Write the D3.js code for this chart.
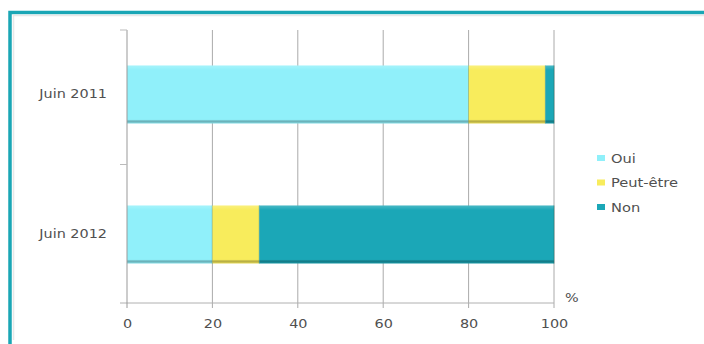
<!DOCTYPE html>
<html>
<head>
<meta charset="utf-8">
<script src="https://cdn.jsdelivr.net/npm/d3@7"></script>
<style>
  html, body { margin: 0; padding: 0; background: #fff; }
  svg { display: block; }
  text { font-family: "DejaVu Sans", sans-serif; }
</style>
</head>
<body>
<svg id="chart" width="704" height="344"></svg>
<script>
// Survey answers per period (percent of respondents)
const categories = ["Juin 2011", "Juin 2012"];
const seriesNames = ["Oui", "Peut-être", "Non"];
const oui = [80, 20];
const peutEtre = [18, 11];
const non = [2, 69];
const xTicks = [0, 20, 40, 60, 80, 100];

const colors = ["#90F0FA", "#F8EC5C", "#1BA7B7"];
const textColor = "#505050";

const rows = categories.map((c, i) => ({ cat: c, "Oui": oui[i], "Peut-être": peutEtre[i], "Non": non[i] }));
const stacked = d3.stack().keys(seriesNames)(rows);

const svg = d3.select("#chart");

// widen glyphs slightly, keeping each label's anchor
function widen(sel, k) {
  sel.each(function () {
    const w = this.getComputedTextLength();
    d3.select(this).attr("textLength", w * k).attr("lengthAdjust", "spacingAndGlyphs");
  });
}

// frame
svg.append("rect").attr("x", 10).attr("y", 12.5).attr("width", 700).attr("height", 340)
  .attr("fill", "#fff").attr("stroke", "#1AA6B5").attr("stroke-width", 3.5);
svg.append("path").attr("d", "M13.5,340 V15.5 H704").attr("fill", "none")
  .attr("stroke", "#e8e8e8").attr("stroke-width", 1.5);

const plotL = 127, plotR = 554, plotT = 30, plotB = 303;
const x = d3.scaleLinear().domain([0, 100]).range([plotL, plotR]);
const y = d3.scaleBand().domain(categories).range([plotT - 2, plotB - 2]).paddingInner(0.586).paddingOuter(0.268);

// vertical grid lines
svg.append("g").selectAll("line").data(xTicks.slice(1)).join("line")
  .attr("x1", d => x(d)).attr("x2", d => x(d))
  .attr("y1", plotT).attr("y2", plotB + 5)
  .attr("stroke", "#aaa").attr("stroke-width", 1);

// bars
const defs = svg.append("defs");
const shade = defs.append("linearGradient").attr("id", "shade").attr("x1", 0).attr("x2", 0).attr("y1", 0).attr("y2", 1);
shade.append("stop").attr("offset", "0").attr("stop-color", "#fff").attr("stop-opacity", 0.2);
shade.append("stop").attr("offset", "0.08").attr("stop-color", "#fff").attr("stop-opacity", 0);
shade.append("stop").attr("offset", "0.93").attr("stop-color", "#000").attr("stop-opacity", 0);
shade.append("stop").attr("offset", "0.96").attr("stop-color", "#000").attr("stop-opacity", 0.28);
shade.append("stop").attr("offset", "1").attr("stop-color", "#000").attr("stop-opacity", 0.1);

const series = svg.append("g").selectAll("g").data(stacked).join("g")
  .attr("fill", (d, i) => colors[i]);
series.selectAll("rect.b").data(d => d).join("rect").attr("class", "b")
  .attr("x", d => x(d[0])).attr("width", d => x(d[1]) - x(d[0]))
  .attr("y", d => y(d.data.cat)).attr("height", y.bandwidth());
series.selectAll("rect.s").data(d => d).join("rect").attr("class", "s")
  .attr("x", d => x(d[0])).attr("width", d => Math.max(0, x(d[1]) - x(d[0])))
  .attr("y", d => y(d.data.cat)).attr("height", y.bandwidth())
  .attr("fill", "url(#shade)");
// segment separators
series.selectAll("line").data(d => d).join("line")
  .attr("x1", d => x(d[1])).attr("x2", d => x(d[1]))
  .attr("y1", d => y(d.data.cat)).attr("y2", d => y(d.data.cat) + y.bandwidth())
  .attr("stroke", "#2a6f66").attr("stroke-opacity", 0.45).attr("stroke-width", 1.2);

// axes
svg.append("line").attr("x1", plotL - 7).attr("x2", plotR).attr("y1", plotB).attr("y2", plotB)
  .attr("stroke", "#b0b0b0");
svg.append("line").attr("x1", plotL).attr("x2", plotL).attr("y1", plotT).attr("y2", plotB + 5)
  .attr("stroke", "#999");
const catEdges = [plotT, (y(categories[0]) + y.bandwidth() + y(categories[1])) / 2];
svg.append("g").selectAll("line").data(catEdges).join("line")
  .attr("x1", plotL - 7).attr("x2", plotL).attr("y1", d => d).attr("y2", d => d)
  .attr("stroke", "#bbb");

const xAxis = d3.axisBottom(x).tickValues(xTicks).tickSize(0).tickPadding(16);
const gx = svg.append("g").attr("transform", `translate(0,${plotB})`).call(xAxis);
gx.select(".domain").remove();
gx.selectAll("text").attr("font-size", 12).attr("fill", textColor).call(widen, 1.2);

const yAxis = d3.axisLeft(y).tickSize(0).tickPadding(20);
const gy = svg.append("g").attr("transform", `translate(${plotL},0)`).call(yAxis);
gy.select(".domain").remove();
gy.selectAll("text").attr("font-size", 12).attr("fill", textColor).call(widen, 1.2);

svg.append("text").attr("x", 565).attr("y", 302).attr("font-size", 12).attr("fill", textColor)
  .text("%").call(widen, 1.2);

// legend
const leg = svg.append("g").attr("transform", "translate(597,158)");
const li = leg.selectAll("g").data(seriesNames).join("g")
  .attr("transform", (d, i) => `translate(0,${i * 24.5})`);
li.append("rect").attr("x", 0).attr("y", -3).attr("width", 8).attr("height", 6)
  .attr("fill", (d, i) => colors[i]);
li.append("text").attr("x", 14).attr("y", 4.5).attr("font-size", 12).attr("fill", textColor)
  .text(d => d).call(widen, 1.22);
</script>
</body>
</html>
